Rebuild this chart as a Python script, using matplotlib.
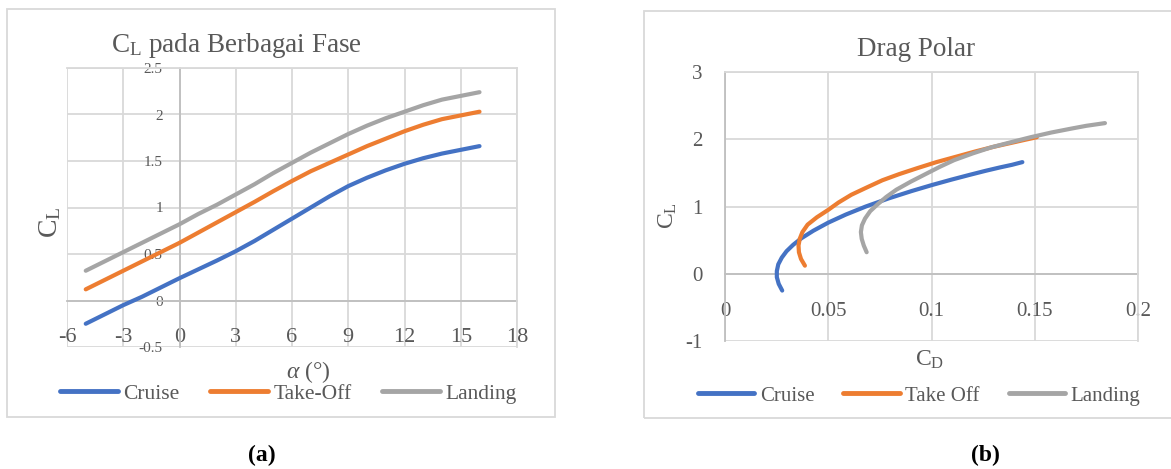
import matplotlib
matplotlib.use("Agg")
import matplotlib.pyplot as plt
from matplotlib.patches import Rectangle
from matplotlib.lines import Line2D

plt.rcParams['font.family'] = 'serif'
plt.rcParams['font.serif'] = ['Liberation Serif', 'DejaVu Serif']
plt.rcParams['mathtext.fontset'] = 'custom'
plt.rcParams['mathtext.rm'] = 'Liberation Serif'
plt.rcParams['mathtext.it'] = 'Liberation Serif:italic'
plt.rcParams['axes.unicode_minus'] = False

# sudut serang (derajat)
alpha = [-5, -4, -3, -2, -1, 0, 1, 2, 3, 4, 5, 6, 7, 8, 9, 10, 11, 12, 13, 14, 15, 16]

# koefisien lift tiap fase
cl_cruise = [-0.25, -0.15, -0.05, 0.04, 0.14, 0.24, 0.335, 0.43, 0.53, 0.64, 0.76,
             0.88, 1.00, 1.12, 1.23, 1.32, 1.40, 1.47, 1.53, 1.58, 1.62, 1.66]
cl_takeoff = [0.12, 0.22, 0.32, 0.42, 0.52, 0.62, 0.73, 0.84, 0.95, 1.06, 1.175,
              1.285, 1.39, 1.48, 1.57, 1.66, 1.74, 1.82, 1.89, 1.95, 1.99, 2.03]
cl_landing = [0.32, 0.42, 0.52, 0.62, 0.72, 0.82, 0.93, 1.03, 1.14, 1.25, 1.37,
              1.48, 1.59, 1.69, 1.79, 1.88, 1.96, 2.03, 2.10, 2.16, 2.20, 2.24]

# koefisien drag tiap fase
cd_cruise = [0.0277, 0.0260, 0.0251, 0.0251, 0.0258, 0.0275, 0.0298, 0.0330, 0.0371, 0.0428, 0.0500,
             0.0585, 0.0682, 0.0792, 0.0904, 0.1003, 0.1097, 0.1184, 0.1261, 0.1330, 0.1390, 0.1440]
cd_takeoff = [0.0387, 0.0368, 0.0358, 0.0356, 0.0362, 0.0375, 0.0400, 0.0445, 0.0500, 0.0550, 0.0612,
              0.0688, 0.0762, 0.0842, 0.0931, 0.1024, 0.1119, 0.1214, 0.1304, 0.1392, 0.1450, 0.1510]
cd_landing = [0.0686, 0.0672, 0.0662, 0.0658, 0.0663, 0.0678, 0.0703, 0.0738, 0.0780, 0.0830, 0.0900,
              0.0970, 0.1040, 0.1110, 0.1200, 0.1290, 0.1390, 0.1480, 0.1580, 0.1680, 0.1750, 0.1840]

warna = ['#4472C4', '#ED7D31', '#A5A5A5']
abu = '#595959'
grid = '#d9d9d9'
sumbu = '#bfbfbf'

W, H = 1171, 469


def kotak(x0, y0, x1, y1):
    """posisi dalam piksel (dari kiri atas) -> koordinat figure"""
    return [x0 / W, 1 - y1 / H, (x1 - x0) / W, (y1 - y0) / H]


def gaya(ax):
    for s in ['top', 'right']:
        ax.spines[s].set_color(grid)
        ax.spines[s].set_linewidth(1.3)
    for s in ['left', 'bottom']:
        ax.spines[s].set_position(('data', 0))
        ax.spines[s].set_color(sumbu)
        ax.spines[s].set_linewidth(1.3)
        ax.spines[s].set_zorder(1.5)
    ax.grid(color=grid, lw=1.3)
    ax.set_axisbelow(True)
    ax.tick_params(length=0, colors=abu)


fig = plt.figure(figsize=(W / 100, H / 100), dpi=100)

# bingkai tiap grafik
for b in [kotak(7, 9, 555, 417), kotak(644, 11, 1185, 418)]:
    fig.add_artist(Rectangle((b[0], b[1]), b[2], b[3], transform=fig.transFigure,
                             fill=False, ec=grid, lw=1.3))

# (a) CL terhadap alpha
ax1 = fig.add_axes(kotak(67, 68, 517, 347))
ax1.plot(alpha, cl_cruise, color=warna[0], lw=3, solid_capstyle='round')
ax1.plot(alpha, cl_takeoff, color=warna[1], lw=3, solid_capstyle='round')
ax1.plot(alpha, cl_landing, color=warna[2], lw=3, solid_capstyle='round')
ax1.set_xlim(-6, 18)
ax1.set_ylim(-0.5, 2.5)
ax1.set_xticks(range(-6, 19, 3))
ax1.set_yticks([-0.5, 0, 0.5, 1, 1.5, 2, 2.5])
ax1.set_yticklabels(['-0.5', '0', '0.5', '1', '1.5', '2', '2.5'])
gaya(ax1)
ax1.tick_params(axis='x', labelsize=16, pad=20)
ax1.tick_params(axis='y', labelsize=11, pad=12)

fig.text(236 / W, 1 - 45 / H, r'C$_\mathrm{L}$ pada Berbagai Fase', fontsize=19.5,
         color=abu, ha='center', va='center')
fig.text(50 / W, 1 - 222 / H, r'C$_\mathrm{L}$', fontsize=20, color=abu,
         rotation=90, ha='center', va='center')
fig.text(308 / W, 1 - 372 / H, r'$\mathit{\alpha}$ (°)', fontsize=17, color=abu,
         ha='center', va='center')

# (b) drag polar
ax2 = fig.add_axes(kotak(725, 72, 1138, 341))
ax2.plot(cd_cruise, cl_cruise, color=warna[0], lw=3, solid_capstyle='round')
ax2.plot(cd_takeoff, cl_takeoff, color=warna[1], lw=3, solid_capstyle='round')
ax2.plot(cd_landing, cl_landing, color=warna[2], lw=3, solid_capstyle='round')
ax2.set_xlim(0, 0.2)
ax2.set_ylim(-1, 3)
ax2.set_xticks([0, 0.05, 0.1, 0.15, 0.2])
ax2.set_xticklabels(['0', '0.05', '0.1', '0.15', '0.2'])
ax2.set_yticks([-1, 0, 1, 2, 3])
gaya(ax2)
ax2.tick_params(axis='x', labelsize=15, pad=20)
ax2.tick_params(axis='y', labelsize=15, pad=16)

fig.text(916 / W, 1 - 50 / H, 'Drag Polar', fontsize=19.5, color=abu,
         ha='center', va='center')
fig.text(668 / W, 1 - 216 / H, r'C$_\mathrm{L}$', fontsize=17, color=abu,
         rotation=90, ha='center', va='center')
fig.text(930 / W, 1 - 360 / H, r'C$_\mathrm{D}$', fontsize=17, color=abu,
         ha='center', va='center')

# legenda
h = [Line2D([], [], color=c, lw=3.5, solid_capstyle='round') for c in warna]
fig.legend(h, ['Cruise', 'Take-Off', 'Landing'], loc='center',
           bbox_to_anchor=(288 / W, 1 - 394 / H), ncol=3, frameon=False,
           fontsize=15.5, handlelength=2.7, handletextpad=0.25, columnspacing=1.4,
           labelcolor=abu)
fig.legend(h, ['Cruise', 'Take Off', 'Landing'], loc='center',
           bbox_to_anchor=(919 / W, 1 - 396 / H), ncol=3, frameon=False,
           fontsize=15, handlelength=2.7, handletextpad=0.25, columnspacing=1.4,
           labelcolor=abu)

fig.text(262 / W, 1 - 455 / H, '(a)', fontsize=17, fontweight='bold',
         ha='center', va='center')
fig.text(985 / W, 1 - 455 / H, '(b)', fontsize=17, fontweight='bold',
         ha='center', va='center')

fig.savefig('out.png', dpi=100, facecolor='white')
